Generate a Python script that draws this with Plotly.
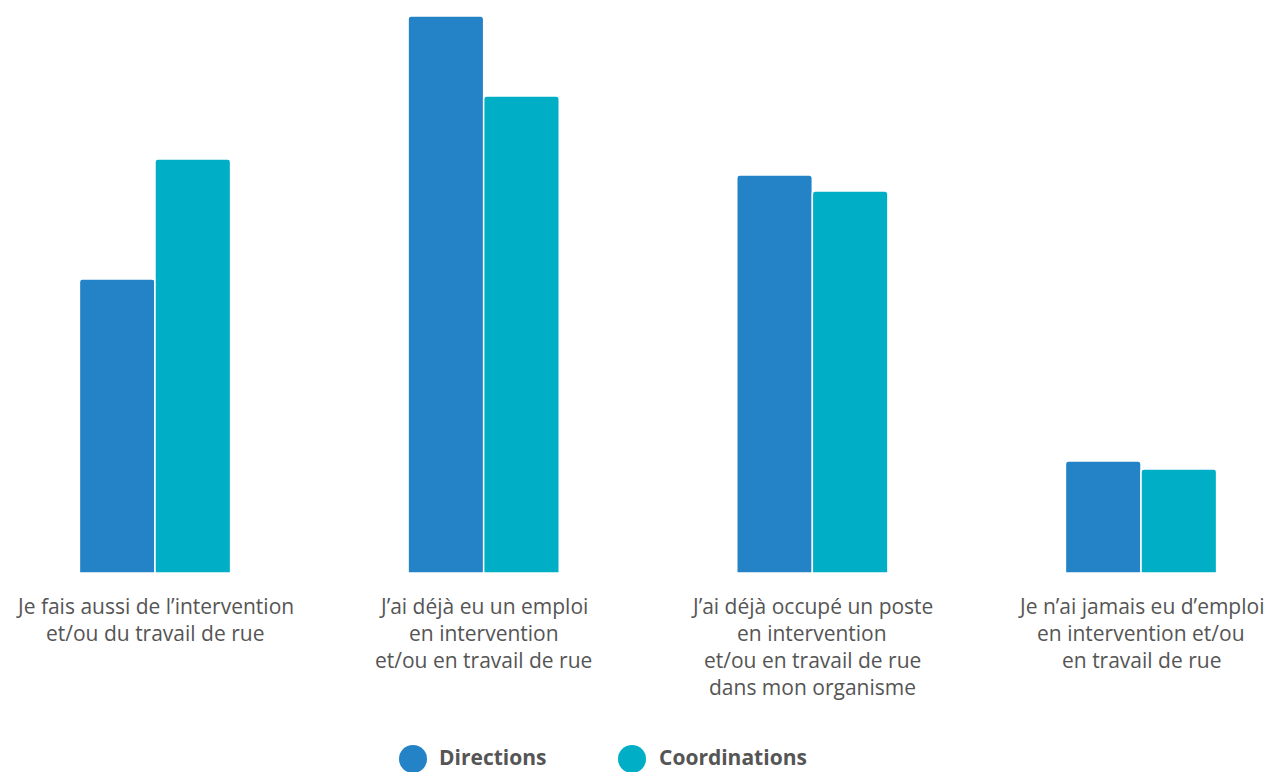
import plotly.graph_objects as go

categories = [
    ["Je fais aussi de l’intervention", "et/ou du travail de rue"],
    ["J’ai déjà eu un emploi", "en intervention", "et/ou en travail de rue"],
    ["J’ai déjà occupé un poste", "en intervention", "et/ou en travail de rue", "dans mon organisme"],
    ["Je n’ai jamais eu d’emploi", "en intervention et/ou", "en travail de rue"],
]
series_names = ["Directions", "Coordinations"]
directions = [29.4, 55.7, 39.8, 11.2]
coordinations = [41.4, 47.7, 38.2, 10.4]
colors = ["#2483C6", "#00AEC6"]

W, H = 1268, 772
plot_bottom = 573  # px from top
x_idx = list(range(len(categories)))

fig = go.Figure()
for name, vals, col in zip(series_names, [directions, coordinations], colors):
    fig.add_trace(go.Bar(
        x=x_idx, y=vals, name=name, marker=dict(color=col, line=dict(color="white", width=1.5)),
        showlegend=False, hoverinfo="skip",
    ))

# category labels, one annotation per line
annotations = []
for i, lines in enumerate(categories):
    for k, line in enumerate(lines):
        annotations.append(dict(
            x=i, y=0, xref="x", yref="y", text=line, showarrow=False,
            xanchor="center", yanchor="middle", yshift=-(606 - plot_bottom) - 27 * k,
            font=dict(family="Open Sans", size=21, color="#555555"),
        ))

# legend
shapes = []
legend_items = [(413, 437), (632, 657)]
for (cx, tx), name, col in zip(legend_items, series_names, colors):
    py = 759
    yp = (plot_bottom - py) / plot_bottom
    shapes.append(dict(
        type="circle", xref="paper", yref="paper", xsizemode="pixel", ysizemode="pixel",
        xanchor=cx / W, yanchor=yp, x0=-14, x1=14, y0=-14, y1=14,
        fillcolor=col, line=dict(width=0),
    ))
    annotations.append(dict(
        x=tx / W, y=(plot_bottom - 757) / plot_bottom, xref="paper", yref="paper",
        text="<b>" + name + "</b>", showarrow=False,
        xanchor="left", yanchor="middle",
        font=dict(family="Open Sans", size=21, color="#555555"),
    ))

x0 = -155 / 328.67
x1 = (W - 155) / 328.67
fig.update_layout(
    width=W, height=H,
    margin=dict(l=0, r=0, t=0, b=H - plot_bottom),
    barmode="group", bargap=0.54, bargroupgap=0, barcornerradius=3,
    paper_bgcolor="white", plot_bgcolor="white",
    xaxis=dict(range=[x0, x1], showticklabels=False, showgrid=False, zeroline=False, showline=False, ticks=""),
    yaxis=dict(range=[0, 57.3], visible=False),
    annotations=annotations, shapes=shapes,
    showlegend=False,
)
fig.write_html(
    "out.html",
    config={"displayModeBar": False},
    post_script="document.body.style.margin='0';document.body.style.overflow='hidden';",
)
